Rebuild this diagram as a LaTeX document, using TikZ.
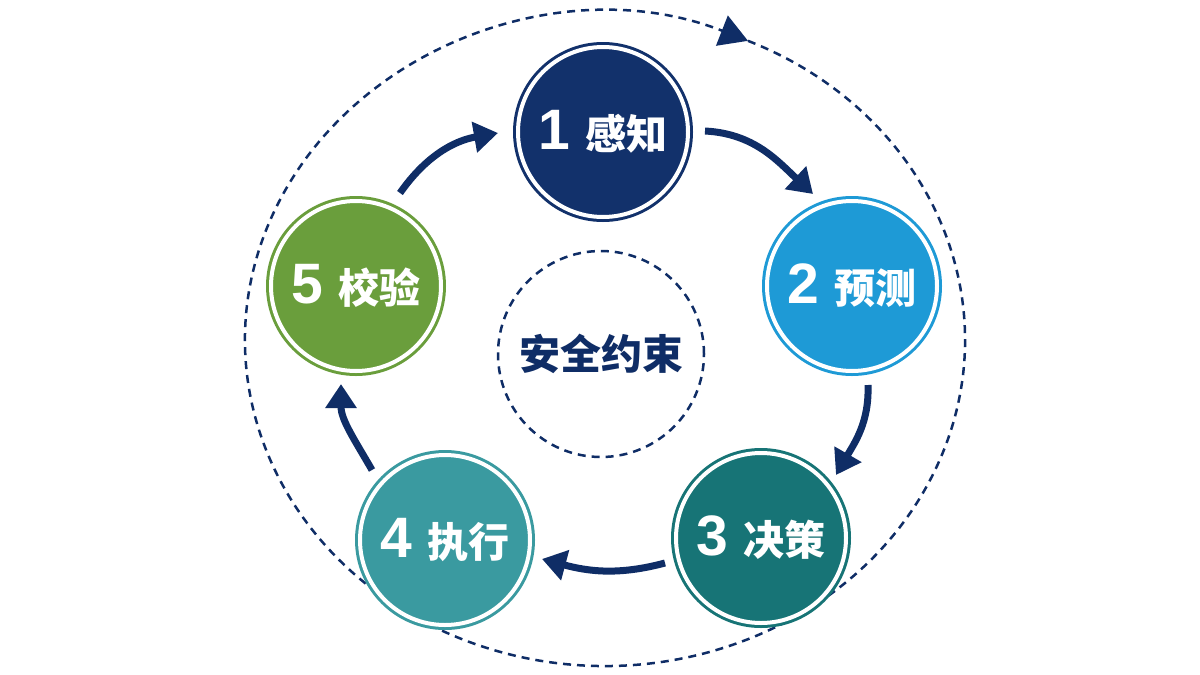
\documentclass[tikz,border=0pt]{standalone}
\usepackage{fontspec}
\usetikzlibrary{arrows.meta,calc}
\newfontfamily\cjk{Noto Sans CJK SC}
\newfontfamily\digitf{Liberation Sans}
\definecolor{navy}{HTML}{0F2D66}
\definecolor{cA}{HTML}{12316B}
\definecolor{cB}{HTML}{1E9AD6}
\definecolor{cC}{HTML}{177476}
\definecolor{cD}{HTML}{3A9AA0}
\definecolor{cE}{HTML}{6A9E3C}
\newcommand{\stagelabel}[2]{{\digitf\bfseries\fontsize{57}{57}\selectfont #1}\hspace{15pt}{\cjk\bfseries\fontsize{41}{41}\selectfont #2}}
\begin{document}
\begin{tikzpicture}[x=1pt,y=1pt,
  stage/.style={circle, minimum size=170pt, inner sep=0pt, fill=#1, draw=#1,
    double=white, double distance=4pt, line width=3pt, text=white},
  flow/.style={draw=navy, line width=7pt, -{Triangle[length=24pt,width=30pt]}},
  dashring/.style={draw=navy, line width=2.5pt, dash pattern=on 8pt off 6pt}]
\useasboundingbox[fill=white] (0,0) rectangle (1200,-675);
% outer dashed ellipse with arrow
\draw[dashring, -{Triangle[length=28pt,width=32pt]}]
  (605,-340) ++(66.6:360 and 326)
  arc[start angle=426.6, end angle=66.6, x radius=360, y radius=326];
% centre
\node[circle, minimum size=206pt, inner sep=0pt, dashring, text=navy,
  font=\cjk\bfseries\fontsize{41}{41}\selectfont] (core) at (601,-354) {安全约束};
% stages
\node[stage=cA] (n1) at (603,-132) {\stagelabel{1}{感知}};
\node[stage=cB] (n2) at (852,-286) {\stagelabel{2}{预测}};
\node[stage=cC] (n3) at (761,-538) {\stagelabel{3}{决策}};
\node[stage=cD] (n4) at (445,-540) {\stagelabel{4}{执行}};
\node[stage=cE] (n5) at (356,-286) {\stagelabel{5}{校验}};
% arrow ends
\coordinate (a12s) at (705,-131);
\coordinate (a12e) at (813,-194);
\coordinate (a23s) at (868,-385);
\coordinate (a23e) at (836,-475);
\coordinate (a34s) at (665,-563);
\coordinate (a34e) at (542,-559);
\coordinate (a45s) at (372,-470);
\coordinate (a45e) at (341,-384);
\coordinate (a51s) at (400,-193);
\coordinate (a51e) at (498,-133);
\draw[flow] (a12s) to[out=-3,in=137] (a12e);
\draw[flow] (a23s) to[out=-88,in=60] (a23e);
\draw[flow] (a34s) to[out=195,in=-15] (a34e);
\draw[flow] (a45s) to[out=120,in=-90] (a45e);
\draw[flow] (a51s) to[out=55,in=190] (a51e);
\end{tikzpicture}
\end{document}
